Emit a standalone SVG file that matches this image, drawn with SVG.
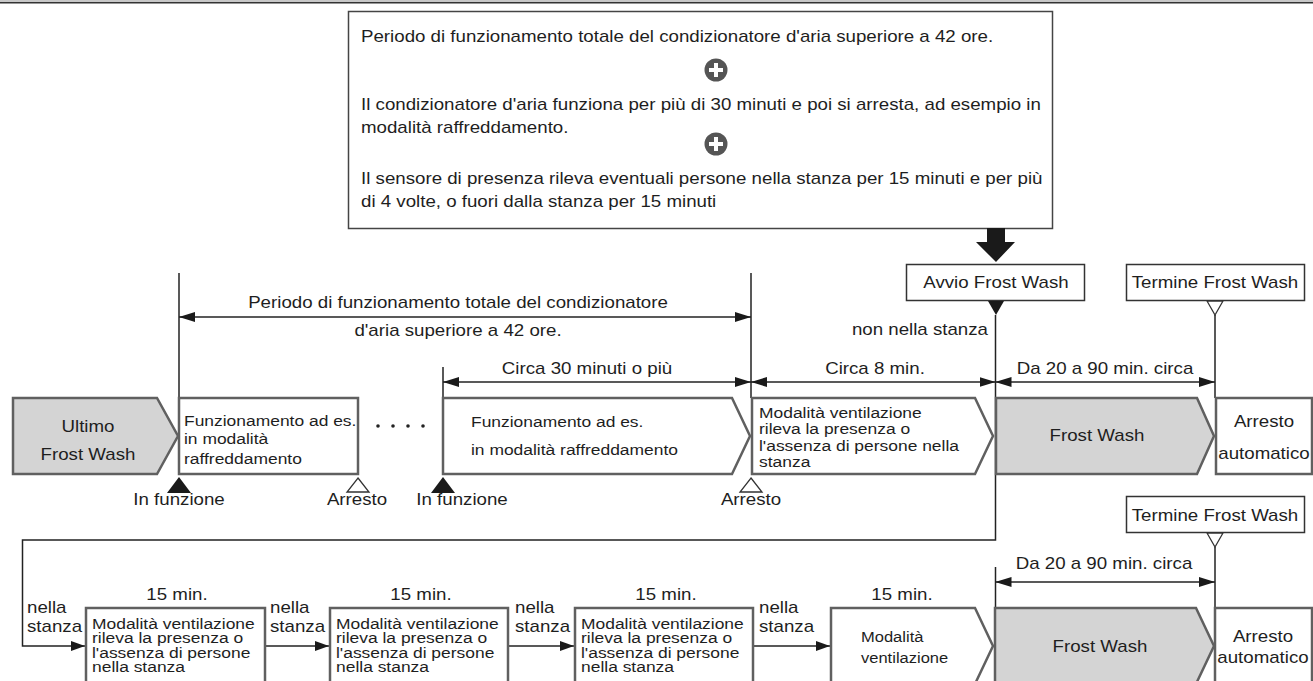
<svg xmlns="http://www.w3.org/2000/svg" width="1313" height="681" viewBox="0 0 1313 681">
<defs>
<marker id="ah" viewBox="0 0 16 10" refX="16" refY="5" markerWidth="16" markerHeight="10" markerUnits="userSpaceOnUse" orient="auto-start-reverse"><path d="M0,0 L16,5 L0,10 z" fill="#1a1a1a"/></marker>
<marker id="ah2" viewBox="0 0 14 10" refX="14" refY="5" markerWidth="14" markerHeight="10" markerUnits="userSpaceOnUse" orient="auto"><path d="M0,0 L14,5 L0,10 z" fill="#1a1a1a"/></marker>
</defs>
<style>
.t{font-family:"Liberation Sans",Arial,Helvetica,sans-serif;font-size:16.4px;fill:#1e1e1e}
.s{font-size:15.3px}
.m{text-anchor:middle}
.e{text-anchor:end}
.box{fill:#fff;stroke:#606060;stroke-width:2.5}
.gray{fill:#d4d4d4;stroke:#606060;stroke-width:2.5}
.lbl{fill:#fff;stroke:#333;stroke-width:1.5}
.ln{fill:none;stroke:#222;stroke-width:1.5}
.dim{fill:none;stroke:#222;stroke-width:1.5;marker-start:url(#ah);marker-end:url(#ah)}
.arr{fill:none;stroke:#222;stroke-width:1.5;marker-end:url(#ah2)}
.tri{fill:#1a1a1a}
.htri{fill:#fff;stroke:#333;stroke-width:1.3}
</style>
<rect x="0" y="0" width="1313" height="2" fill="#c8c8c8"/>
<line x1="0" y1="2.8" x2="1313" y2="2.8" stroke="#333" stroke-width="1.5"/>

<g id="conditions">
<rect x="348.5" y="11.5" width="704" height="217" fill="#fff" stroke="#444" stroke-width="1.5"/>
<text class="t" transform="translate(361 42) scale(1.14 1)">Periodo di funzionamento totale del condizionatore d'aria superiore a 42 ore.</text>
<text class="t" transform="translate(361 110) scale(1.14 1)"><tspan x="0">Il condizionatore d'aria funziona per più di 30 minuti e poi si arresta, ad esempio in</tspan><tspan x="0" dy="23">modalità raffreddamento.</tspan></text>
<text class="t" transform="translate(361 184) scale(1.14 1)"><tspan x="0">Il sensore di presenza rileva eventuali persone nella stanza per 15 minuti e per più</tspan><tspan x="0" dy="23">di 4 volte, o fuori dalla stanza per 15 minuti</tspan></text>
<circle cx="716" cy="70" r="11.5" fill="#555"/>
<path d="M709,70 H723 M716,63 V77" stroke="#fff" stroke-width="4"/>
<circle cx="716" cy="144" r="11.5" fill="#555"/>
<path d="M709,144 H723 M716,137 V151" stroke="#fff" stroke-width="4"/>
</g>

<g id="bigarrow">
<path d="M987,228 H1005 V242 H1015 L996,262 L976,242 H987 Z" fill="#1a1a1a"/>
</g>

<g id="avvio">
<rect class="lbl" x="906.5" y="264.5" width="178" height="36"/>
<text class="t m" transform="translate(996 288) scale(1.14 1)">Avvio Frost Wash</text>
<path class="tri" d="M988,301 L1004,301 L996,315 Z"/>
</g>

<g id="termine1">
<rect class="lbl" x="1126.5" y="264.5" width="178" height="36"/>
<text class="t m" transform="translate(1215 288) scale(1.14 1)">Termine Frost Wash</text>
<path class="htri" d="M1207,301 L1223,301 L1215,315 Z"/>
</g>

<g id="connectors">
<line class="ln" x1="179" y1="273" x2="179" y2="398"/>
<line class="ln" x1="751" y1="273" x2="751" y2="398"/>
<line class="ln" x1="443" y1="367" x2="443" y2="398"/>
<line class="ln" x1="1215" y1="315" x2="1215" y2="398"/>
<line class="dim" x1="179" y1="317" x2="751" y2="317"/>
<line class="dim" x1="443" y1="382" x2="751" y2="382"/>
<line class="dim" x1="751" y1="382" x2="995.5" y2="382"/>
<line class="dim" x1="995.5" y1="382" x2="1215" y2="382"/>
<path class="arr" d="M995.5,315 V540 H22.5 V646 H85"/>
<line class="arr" x1="265" y1="646" x2="329" y2="646"/>
<line class="arr" x1="508" y1="646" x2="574" y2="646"/>
<line class="arr" x1="753" y1="646" x2="830" y2="646"/>
<line class="ln" x1="1215" y1="547" x2="1215" y2="608"/>
<line class="ln" x1="995.5" y1="567" x2="995.5" y2="608"/>
<line class="dim" x1="995.5" y1="582" x2="1215" y2="582"/>
</g>

<g id="dimlabels">
<text class="t m" transform="translate(458 308) scale(1.14 1)">Periodo di funzionamento totale del condizionatore</text>
<text class="t m" transform="translate(458 336) scale(1.14 1)">d'aria superiore a 42 ore.</text>
<text class="t m" transform="translate(587 374) scale(1.14 1)">Circa 30 minuti o più</text>
<text class="t m" transform="translate(875 374) scale(1.14 1)">Circa 8 min.</text>
<text class="t m" transform="translate(1105 374) scale(1.14 1)">Da 20 a 90 min. circa</text>
<text class="t e" transform="translate(988 335) scale(1.14 1)">non nella stanza</text>
<text class="t m" transform="translate(1104 569) scale(1.14 1)">Da 20 a 90 min. circa</text>
</g>

<g id="ultimo">
<path class="gray" d="M13,398 H157 L178,436 L157,474 H13 Z"/>
<text class="t m" transform="translate(88 432) scale(1.14 1)">Ultimo</text>
<text class="t m" transform="translate(88 460) scale(1.14 1)">Frost Wash</text>
</g>

<g id="funz1">
<rect class="box" x="179" y="398" width="179" height="76"/>
<text class="t s" transform="translate(184 426) scale(1.14 1)"><tspan x="0">Funzionamento ad es.</tspan><tspan x="0" dy="18">in modalità</tspan><tspan x="0" dy="20">raffreddamento</tspan></text>
<path class="tri" d="M179,477 L191,493 L167,493 Z"/>
<path class="htri" d="M358,478 L369,492 L347,492 Z"/>
<text class="t m" transform="translate(179 505) scale(1.14 1)">In funzione</text>
<text class="t m" transform="translate(357 505) scale(1.14 1)">Arresto</text>
</g>

<g id="dots">
<circle cx="378" cy="426" r="1.8" fill="#222"/>
<circle cx="393" cy="426" r="1.8" fill="#222"/>
<circle cx="408" cy="426" r="1.8" fill="#222"/>
<circle cx="423" cy="426" r="1.8" fill="#222"/>
</g>

<g id="funz2">
<path class="box" d="M443,398 H732 L750,436 L732,474 H443 Z"/>
<text class="t s" transform="translate(471 427) scale(1.14 1)"><tspan x="0">Funzionamento ad es.</tspan><tspan x="0" dy="28">in modalità raffreddamento</tspan></text>
<path class="tri" d="M443,477 L455,493 L431,493 Z"/>
<path class="htri" d="M751,478 L762,492 L740,492 Z"/>
<text class="t m" transform="translate(462 505) scale(1.14 1)">In funzione</text>
<text class="t m" transform="translate(751 505) scale(1.14 1)">Arresto</text>
</g>

<g id="vent1">
<path class="box" d="M752,398 H975 L993,436 L975,474 H752 Z"/>
<text class="t s" transform="translate(759 418) scale(1.14 1)"><tspan x="0">Modalità ventilazione</tspan><tspan x="0" dy="16.5">rileva la presenza o</tspan><tspan x="0" dy="16.5">l'assenza di persone nella</tspan><tspan x="0" dy="16.5">stanza</tspan></text>
</g>

<g id="frost1">
<path class="gray" d="M996,398 H1197 L1214,436 L1197,474 H996 Z"/>
<text class="t m" transform="translate(1097 441) scale(1.14 1)">Frost Wash</text>
</g>

<g id="arresto1">
<rect class="box" x="1216" y="398" width="96" height="76"/>
<text class="t m" transform="translate(1264 427) scale(1.14 1)">Arresto</text>
<text class="t m" transform="translate(1264 459) scale(1.14 1)">automatico</text>
</g>

<g id="vent2a">
<rect class="box" x="86" y="608" width="179" height="90"/>
<text class="t s" transform="translate(92 629) scale(1.14 1)"><tspan x="0">Modalità ventilazione</tspan><tspan x="0" dy="14.5">rileva la presenza o</tspan><tspan x="0" dy="14.5">l'assenza di persone</tspan><tspan x="0" dy="14.5">nella stanza</tspan></text>
<text class="t m" transform="translate(177 600) scale(1.14 1)">15 min.</text>
<text class="t" transform="translate(27 613) scale(1.14 1)"><tspan x="0">nella</tspan><tspan x="0" dy="19">stanza</tspan></text>
</g>

<g id="vent2b">
<rect class="box" x="330" y="608" width="178" height="90"/>
<text class="t s" transform="translate(336 629) scale(1.14 1)"><tspan x="0">Modalità ventilazione</tspan><tspan x="0" dy="14.5">rileva la presenza o</tspan><tspan x="0" dy="14.5">l'assenza di persone</tspan><tspan x="0" dy="14.5">nella stanza</tspan></text>
<text class="t m" transform="translate(421 600) scale(1.14 1)">15 min.</text>
<text class="t" transform="translate(270 613) scale(1.14 1)"><tspan x="0">nella</tspan><tspan x="0" dy="19">stanza</tspan></text>
</g>

<g id="vent2c">
<rect class="box" x="575" y="608" width="178" height="90"/>
<text class="t s" transform="translate(581 629) scale(1.14 1)"><tspan x="0">Modalità ventilazione</tspan><tspan x="0" dy="14.5">rileva la presenza o</tspan><tspan x="0" dy="14.5">l'assenza di persone</tspan><tspan x="0" dy="14.5">nella stanza</tspan></text>
<text class="t m" transform="translate(666 600) scale(1.14 1)">15 min.</text>
<text class="t" transform="translate(515 613) scale(1.14 1)"><tspan x="0">nella</tspan><tspan x="0" dy="19">stanza</tspan></text>
</g>

<g id="vent2d">
<path class="box" d="M831,608 H975 L993,646 L975,684 H831 Z"/>
<text class="t" style="font-size:14.5px" transform="translate(861 642) scale(1.14 1)"><tspan x="0">Modalità</tspan><tspan x="0" dy="21">ventilazione</tspan></text>
<text class="t m" transform="translate(902 600) scale(1.14 1)">15 min.</text>
<text class="t" transform="translate(759 613) scale(1.14 1)"><tspan x="0">nella</tspan><tspan x="0" dy="19">stanza</tspan></text>
</g>

<g id="frost2">
<path class="gray" d="M995,608 H1196 L1214,646 L1196,684 H995 Z"/>
<text class="t m" transform="translate(1100 652) scale(1.14 1)">Frost Wash</text>
</g>

<g id="termine2">
<rect class="lbl" x="1126.5" y="496.5" width="178" height="36"/>
<text class="t m" transform="translate(1215 521) scale(1.14 1)">Termine Frost Wash</text>
<path class="htri" d="M1207,533 L1223,533 L1215,547 Z"/>
</g>

<g id="arresto2">
<rect class="box" x="1215" y="608" width="97" height="90"/>
<text class="t m" transform="translate(1263 642) scale(1.14 1)">Arresto</text>
<text class="t m" transform="translate(1263 663) scale(1.14 1)">automatico</text>
</g>
</svg>
